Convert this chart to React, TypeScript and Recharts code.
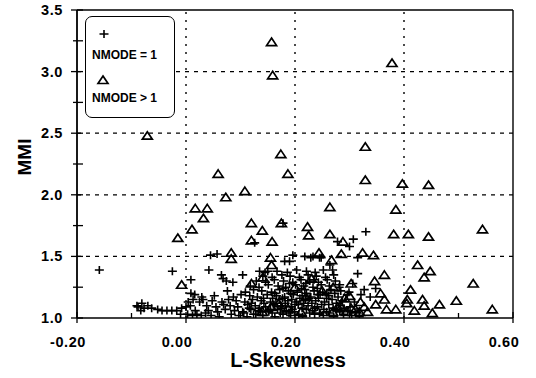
import {
    ScatterChart,
    Scatter,
    XAxis,
    YAxis,
    ReferenceLine,
    Legend,
    Label,
} from "recharts";

const FONT = '"Liberation Sans", Arial, sans-serif';
const INK = "#000";

// L-Skewness / MMI pairs
const NMODE_EQ_1: [number, number][] = [
    // scattered, upper part
    [-0.159, 1.39], [-0.025, 1.38], [0.042, 1.39], [0.045, 1.51], [0.057, 1.52],
    [0.009, 1.31], [0.065, 1.35], [0.068, 1.32], [0.074, 1.3], [0.086, 1.29],
    [0.104, 1.35], [0.135, 1.38], [0.145, 1.37], [0.15, 1.38], [0.126, 1.61],
    [0.178, 1.77], [0.278, 1.62], [0.3, 1.58], [0.307, 1.64], [0.33, 1.7],
    [0.315, 1.49], [0.181, 1.46], [0.19, 1.46], [0.196, 1.51], [0.218, 1.5],
    [0.229, 1.49], [0.233, 1.5], [0.245, 1.49], [0.248, 1.49], [0.264, 1.43],
    [0.269, 1.39], [0.315, 1.36], [0.306, 1.28], [0.282, 1.27], [0.327, 1.23],
    [0.348, 1.24], [0.273, 1.2], [0.321, 1.19], [0.338, 1.17],
    // left tail
    [-0.09, 1.1], [-0.081, 1.12], [-0.088, 1.09], [-0.077, 1.08], [-0.083, 1.06],
    [-0.07, 1.1], [-0.063, 1.08], [-0.052, 1.07], [-0.044, 1.06], [-0.035, 1.06],
    [-0.026, 1.06], [-0.017, 1.06], [-0.008, 1.08], [0.0, 1.09], [0.004, 1.13],
    [0.013, 1.15], [0.025, 1.13], [0.031, 1.15], [0.009, 1.2], [0.016, 1.19],
    [0.029, 1.17], [0.003, 1.03], [0.012, 1.02], [0.02, 1.03], [0.028, 1.02],
    [0.036, 1.04], [-0.01, 1.03], [0.017, 1.06], [0.008, 1.1],
    // main cluster
    [0.046, 1.02], [0.061, 1.01], [0.083, 1.03], [0.097, 1.02], [0.112, 1.01],
    [0.128, 1.03], [0.141, 1.02], [0.163, 1.01], [0.178, 1.03], [0.192, 1.02],
    [0.214, 1.01], [0.236, 1.03], [0.252, 1.02], [0.271, 1.01], [0.289, 1.03],
    [0.304, 1.02], [0.318, 1.01],
    [0.041, 1.06], [0.058, 1.05], [0.072, 1.07], [0.089, 1.06], [0.104, 1.05],
    [0.119, 1.07], [0.133, 1.06], [0.152, 1.05], [0.168, 1.07], [0.184, 1.06],
    [0.199, 1.05], [0.221, 1.07], [0.232, 1.06], [0.258, 1.05], [0.276, 1.07],
    [0.297, 1.06], [0.312, 1.05],
    [0.038, 1.1], [0.055, 1.09], [0.069, 1.11], [0.081, 1.1], [0.095, 1.09],
    [0.113, 1.11], [0.127, 1.1], [0.146, 1.09], [0.161, 1.11], [0.174, 1.1],
    [0.193, 1.09], [0.206, 1.11], [0.224, 1.1], [0.241, 1.09], [0.262, 1.11],
    [0.283, 1.1], [0.301, 1.09],
    [0.048, 1.14], [0.066, 1.13], [0.078, 1.15], [0.092, 1.14], [0.108, 1.13],
    [0.122, 1.15], [0.138, 1.14], [0.155, 1.13], [0.171, 1.15], [0.187, 1.14],
    [0.203, 1.13], [0.219, 1.15], [0.238, 1.14], [0.254, 1.13], [0.268, 1.15],
    [0.287, 1.14], [0.309, 1.13],
    [0.052, 1.18], [0.087, 1.17], [0.101, 1.19], [0.117, 1.18], [0.131, 1.17],
    [0.149, 1.19], [0.166, 1.18], [0.181, 1.17], [0.197, 1.19], [0.213, 1.18],
    [0.229, 1.17], [0.246, 1.19], [0.262, 1.18], [0.279, 1.17], [0.296, 1.19],
    [0.076, 1.22], [0.109, 1.21], [0.124, 1.23], [0.139, 1.22], [0.157, 1.21],
    [0.172, 1.23], [0.188, 1.22], [0.204, 1.21], [0.218, 1.23], [0.235, 1.22],
    [0.251, 1.21], [0.266, 1.23], [0.284, 1.22], [0.299, 1.21],
    [0.118, 1.26], [0.134, 1.25], [0.151, 1.27], [0.169, 1.26], [0.183, 1.25],
    [0.201, 1.27], [0.216, 1.26], [0.233, 1.25], [0.248, 1.27], [0.263, 1.26],
    [0.281, 1.25],
    [0.129, 1.3], [0.146, 1.29], [0.162, 1.31], [0.179, 1.3], [0.196, 1.29],
    [0.211, 1.31], [0.227, 1.3], [0.243, 1.29], [0.259, 1.31], [0.274, 1.3],
    [0.141, 1.34], [0.158, 1.33], [0.176, 1.35], [0.191, 1.34], [0.208, 1.33],
    [0.224, 1.35], [0.239, 1.34], [0.256, 1.33], [0.271, 1.35],
    [0.167, 1.38], [0.186, 1.37], [0.203, 1.39], [0.221, 1.38], [0.237, 1.37],
    [0.252, 1.39],
    // densest core
    [0.106, 1.04], [0.124, 1.03], [0.137, 1.05], [0.158, 1.04], [0.173, 1.04],
    [0.189, 1.04], [0.207, 1.03], [0.227, 1.04], [0.245, 1.04], [0.263, 1.04],
    [0.282, 1.05], [0.116, 1.08], [0.135, 1.08], [0.155, 1.07], [0.176, 1.08],
    [0.195, 1.07], [0.213, 1.08], [0.236, 1.08], [0.253, 1.07], [0.27, 1.08],
    [0.29, 1.08], [0.12, 1.12], [0.143, 1.12], [0.165, 1.12], [0.182, 1.12],
    [0.2, 1.11], [0.216, 1.12], [0.231, 1.12], [0.249, 1.11], [0.276, 1.12],
    [0.142, 1.16], [0.159, 1.16], [0.177, 1.16], [0.194, 1.15], [0.209, 1.16],
    [0.226, 1.16], [0.243, 1.16], [0.258, 1.16], [0.163, 1.2], [0.192, 1.2],
    [0.221, 1.2], [0.242, 1.19], [0.258, 1.2], [0.178, 1.24], [0.212, 1.24],
    [0.241, 1.24], [0.19, 1.28], [0.22, 1.28], [0.235, 1.31],
];

const NMODE_GT_1: [number, number][] = [
    [-0.071, 2.48], [0.157, 3.24], [0.159, 2.97], [0.378, 3.07], [0.059, 2.17],
    [0.174, 2.33], [0.187, 2.17], [0.329, 2.39], [0.329, 2.12], [0.397, 2.09],
    [0.445, 2.08], [0.108, 2.03], [0.073, 1.98], [0.017, 1.89], [0.039, 1.89],
    [0.032, 1.81], [0.011, 1.72], [-0.015, 1.65], [0.12, 1.77], [0.14, 1.71],
    [0.12, 1.63], [0.158, 1.62], [0.175, 1.77], [0.223, 1.74], [0.225, 1.67],
    [0.264, 1.68], [0.264, 1.9], [0.385, 1.88], [0.381, 1.68], [0.408, 1.68],
    [0.445, 1.66], [0.544, 1.72], [0.288, 1.62], [0.083, 1.53], [0.083, 1.48],
    [0.244, 1.53], [0.285, 1.52], [0.324, 1.53], [0.267, 1.47], [0.344, 1.51],
    [0.155, 1.49], [0.157, 1.43], [0.425, 1.43], [0.448, 1.38], [0.437, 1.33],
    [0.364, 1.35], [0.346, 1.3], [0.527, 1.28], [0.412, 1.23], [0.303, 1.28],
    [0.357, 1.2], [0.364, 1.15], [0.406, 1.15], [0.434, 1.15], [0.496, 1.14],
    [0.465, 1.11], [0.348, 1.11], [0.437, 1.1], [0.405, 1.12], [0.385, 1.07],
    [0.368, 1.07], [0.419, 1.06], [0.452, 1.04], [0.562, 1.07], [0.327, 1.09],
    [0.291, 1.16], [0.278, 1.09], [0.311, 1.07], [0.333, 1.05], [0.269, 1.05],
    [0.241, 1.06], [0.211, 1.05], [0.187, 1.08], [0.156, 1.09], [-0.008, 1.27],
    [0.12, 1.28], [0.141, 1.33], [0.285, 1.09], [0.294, 1.05], [0.303, 1.08],
    [0.318, 1.05], [0.17, 1.12], [0.22, 1.17], [0.25, 1.22], [0.14, 1.05],
    [0.2, 1.25], [0.23, 1.32], [0.27, 1.25], [0.3, 1.18], [0.32, 1.13],
];

const X_MAJOR = [-0.2, 0, 0.2, 0.4, 0.6];
const X_MINOR = [-0.1, 0.1, 0.3, 0.5];
const Y_MAJOR = [1, 1.5, 2, 2.5, 3, 3.5];
const Y_MINOR = [1.25, 1.75, 2.25, 2.75, 3.25];
const X_GRID = [0, 0.2, 0.4];
const Y_GRID = [1.5, 2, 2.5, 3];

const LEGEND_LABELS = ["NMODE = 1", "NMODE > 1"];

const toPoints = (rows: [number, number][]) =>
    rows.map(([skew, mmi]) => ({ skew, mmi }));

const plusShape = (props: any) => {
    const { cx, cy } = props;
    return (
        <path
            d={`M${cx - 4.5},${cy}H${cx + 4.5}M${cx},${cy - 4}V${cy + 4}`}
            stroke={INK}
            strokeWidth={1.6}
            fill="none"
        />
    );
};

const triangleShape = (props: any) => {
    const { cx, cy } = props;
    return (
        <path
            d={`M${cx},${cy - 4}L${cx + 5},${cy + 3.5}L${cx - 5},${cy + 3.5}Z`}
            stroke={INK}
            strokeWidth={1.7}
            fill="none"
        />
    );
};

const XTick = (props: any) => {
    const { x, y, payload } = props;
    const major = X_MAJOR.includes(payload.value);
    return (
        <g>
            <line x1={x} x2={x} y1={y - (major ? 6 : 5)} y2={y + (major ? 5 : 0)} stroke={INK} strokeWidth={1.3} />
            {major && (
                <text x={x - 9} y={y + 29} textAnchor="middle" fontSize={14.5} fontWeight="bold" letterSpacing={0.6} fill={INK} fontFamily={FONT}>
                    {payload.value.toFixed(2)}
                </text>
            )}
        </g>
    );
};

const YTick = (props: any) => {
    const { x, y, payload } = props;
    const major = Y_MAJOR.includes(payload.value);
    return (
        <g>
            <line x1={x - (major ? 6 : 4)} x2={x + 6} y1={y} y2={y} stroke={INK} strokeWidth={1.3} />
            {major && (
                <text x={x - 14} y={y + 5} textAnchor="end" fontSize={14.5} fontWeight="bold" letterSpacing={0.6} fill={INK} fontFamily={FONT}>
                    {payload.value.toFixed(1)}
                </text>
            )}
        </g>
    );
};

const LegendBox = () => (
    <div
        style={{
            width: 90,
            height: 102,
            border: "1.5px solid #000",
            borderRadius: 7,
            boxSizing: "border-box",
            background: "#fff",
        }}
    >
        <svg width={88} height={99} style={{ display: "block" }}>
            <g transform="translate(18,17)">{plusShape({ cx: 0, cy: 0 })}</g>
            <text x={6} y={42} fontSize={12} fontWeight="bold" fontFamily={FONT} fill={INK}>
                {LEGEND_LABELS[0]}
            </text>
            <g transform="translate(17,63)">{triangleShape({ cx: 0, cy: 0 })}</g>
            <text x={6} y={85} fontSize={12} fontWeight="bold" fontFamily={FONT} fill={INK}>
                {LEGEND_LABELS[1]}
            </text>
        </svg>
    </div>
);

const App = () => {
    return (
        <div style={{ position: "absolute", left: 0, top: 0, width: 536, height: 378, background: "#fff" }}>
            <ScatterChart width={536} height={378} margin={{ top: 10, right: 23, bottom: 0, left: 0 }}>
                <XAxis
                    type="number"
                    dataKey="skew"
                    domain={[-0.2, 0.6]}
                    ticks={[...X_MAJOR, ...X_MINOR].sort((a, b) => a - b)}
                    interval={0}
                    allowDataOverflow
                    height={60}
                    tickSize={0}
                    tickMargin={0}
                    tick={<XTick />}
                    axisLine={{ stroke: INK, strokeWidth: 1.4 }}
                >
                    <Label
                        content={() => (
                            <text x={288} y={367} textAnchor="middle" fontSize={20} fontWeight="bold" fontFamily={FONT} fill={INK}>
                                L-Skewness
                            </text>
                        )}
                    />
                </XAxis>
                <YAxis
                    type="number"
                    dataKey="mmi"
                    domain={[1, 3.5]}
                    ticks={[...Y_MAJOR, ...Y_MINOR].sort((a, b) => a - b)}
                    interval={0}
                    allowDataOverflow
                    width={77}
                    tickSize={0}
                    tickMargin={0}
                    tick={<YTick />}
                    axisLine={{ stroke: INK, strokeWidth: 1.8 }}
                >
                    <Label
                        content={() => (
                            <text
                                x={31}
                                y={157}
                                transform="rotate(-90 31 157)"
                                textAnchor="middle"
                                fontSize={19}
                                fontWeight="bold"
                                fontFamily={FONT}
                                fill={INK}
                            >
                                MMI
                            </text>
                        )}
                    />
                </YAxis>
                {Y_GRID.map((v) => (
                    <ReferenceLine key={`y${v}`} y={v} stroke={INK} strokeWidth={1.3} strokeDasharray="4 5" />
                ))}
                {X_GRID.map((v) => (
                    <ReferenceLine key={`x${v}`} x={v} stroke={INK} strokeWidth={1.4} strokeDasharray="2 6" />
                ))}
                <ReferenceLine y={3.5} stroke={INK} strokeWidth={1.4} />
                <ReferenceLine x={0.6} stroke={INK} strokeWidth={1.4} />
                <Scatter
                    name={LEGEND_LABELS[0]}
                    data={toPoints(NMODE_EQ_1)}
                    shape={plusShape}
                    isAnimationActive={false}
                />
                <Scatter
                    name={LEGEND_LABELS[1]}
                    data={toPoints(NMODE_GT_1)}
                    shape={triangleShape}
                    isAnimationActive={false}
                />
                <Legend
                    layout="vertical"
                    align="center"
                    verticalAlign="middle"
                    content={() => <LegendBox />}
                    wrapperStyle={{ left: 85, top: 16, width: 90, height: 102 }}
                />
            </ScatterChart>
        </div>
    );
};

export default App;
